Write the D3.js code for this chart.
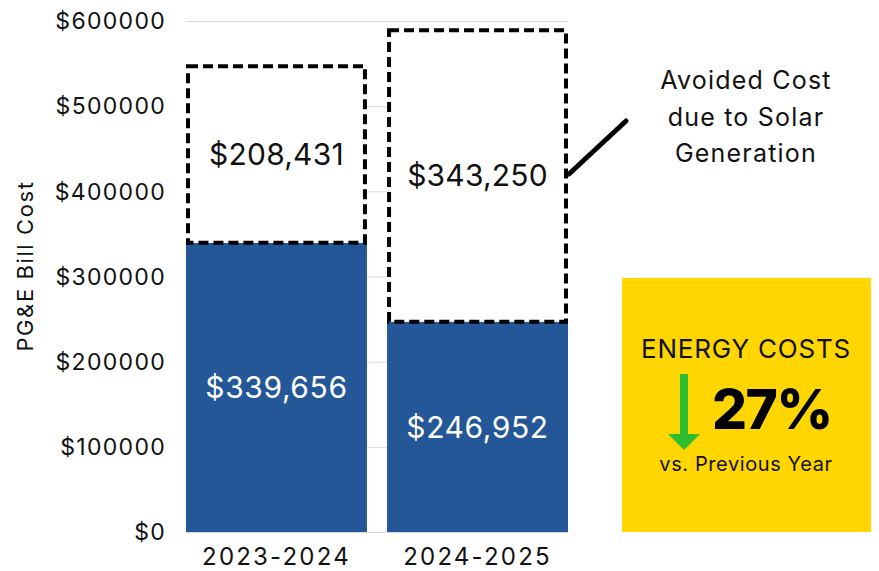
<!DOCTYPE html>
<html>
<head>
<meta charset="UTF-8">
<title>PG&E Bill Cost</title>
<style>
  body { margin: 0; background: #fff; font-family: 'Inter', 'Noto Sans', sans-serif; }
  .grid line { stroke: #d9d9d9; stroke-width: 1; }
  .axis text { font-size: 23px; fill: #111; letter-spacing: 1.3px; }
</style>
</head>
<body>
<script src="https://d3js.org/d3.v7.min.js"></script>
<script>
// data
var years = ["2023-2024", "2024-2025"];
var billCost = [339656, 246952];
var avoidedCost = [208431, 343250];
var yTicks = [0, 100000, 200000, 300000, 400000, 500000, 600000];
var annotation = ["Avoided Cost", "due to Solar", "Generation"];
var changePct = 27;

var width = 879, height = 571;
var svg = d3.select("body").append("svg")
    .attr("width", width).attr("height", height);

var x = d3.scaleBand().domain(years).range([186, 568]).paddingInner(0.1).paddingOuter(0);
var y = d3.scaleLinear().domain([0, 600000]).range([532, 21]);

// gridlines
svg.append("g").attr("class", "grid")
    .selectAll("line").data(yTicks).enter().append("line")
    .attr("x1", 186).attr("x2", 568)
    .attr("y1", function(d) { return y(d) + 0.5; })
    .attr("y2", function(d) { return y(d) + 0.5; });

// y tick labels
svg.append("g").attr("class", "axis")
    .selectAll("text").data(yTicks).enter().append("text")
    .attr("x", 166).attr("y", function(d) { return y(d); })
    .attr("dy", "0.36em").attr("text-anchor", "end")
    .text(function(d) { return "$" + d; });

// category labels
svg.append("g").attr("class", "axis")
    .selectAll("text").data(years).enter().append("text")
    .attr("x", function(d) { return x(d) + x.bandwidth() / 2; })
    .attr("y", 565).attr("text-anchor", "middle")
    .style("font-size", "24px").style("letter-spacing", "2.2px")
    .text(function(d) { return d; });

// y title
svg.append("text")
    .attr("transform", "translate(33,266) rotate(-90)")
    .attr("text-anchor", "middle").attr("font-size", 22).attr("fill", "#111")
    .style("letter-spacing", "1.6px")
    .text("PG&E Bill Cost");

// blue bars
svg.selectAll(".bar").data(years).enter().append("rect")
    .attr("class", "bar")
    .attr("x", function(d) { return x(d); })
    .attr("width", x.bandwidth())
    .attr("y", function(d, i) { return y(billCost[i]); })
    .attr("height", function(d, i) { return y(0) - y(billCost[i]); })
    .attr("fill", "#245797");

// dashed avoided boxes
svg.selectAll(".avoid").data(years).enter().append("rect")
    .attr("class", "avoid")
    .attr("x", function(d) { return x(d) + 2; })
    .attr("width", x.bandwidth() - 4)
    .attr("y", function(d, i) { return y(billCost[i] + avoidedCost[i]) + 1; })
    .attr("height", function(d, i) { return y(billCost[i]) - y(billCost[i] + avoidedCost[i]) - 1; })
    .attr("fill", "#fff").attr("stroke", "#000").attr("stroke-width", 4)
    .attr("stroke-dasharray", "10,5");

var fmt = d3.format(",");

// value labels
svg.selectAll(".lblBill").data(years).enter().append("text")
    .attr("x", function(d) { return x(d) + x.bandwidth() / 2; })
    .attr("y", function(d, i) { return (y(0) + y(billCost[i])) / 2; })
    .attr("dy", "0.36em").attr("text-anchor", "middle")
    .attr("font-size", 30).attr("fill", "#fff").style("letter-spacing", "0.6px")
    .text(function(d, i) { return "$" + fmt(billCost[i]); });

svg.selectAll(".lblAvoid").data(years).enter().append("text")
    .attr("x", function(d) { return x(d) + x.bandwidth() / 2; })
    .attr("y", function(d, i) { return (y(billCost[i]) + y(billCost[i] + avoidedCost[i])) / 2; })
    .attr("dy", "0.36em").attr("text-anchor", "middle")
    .attr("font-size", 30).attr("fill", "#111").style("letter-spacing", "0.2px")
    .text(function(d, i) { return "$" + fmt(avoidedCost[i]); });

// annotation
svg.append("line")
    .attr("x1", 569).attr("y1", 174).attr("x2", 626).attr("y2", 121)
    .attr("stroke", "#000").attr("stroke-width", 5).attr("stroke-linecap", "round");

svg.append("g").selectAll("text").data(annotation).enter().append("text")
    .attr("x", 746).attr("y", function(d, i) { return 89 + i * 36.5; })
    .attr("text-anchor", "middle").attr("font-size", 25).attr("fill", "#111")
    .style("letter-spacing", "1.2px")
    .text(function(d) { return d; });

// callout box
var box = svg.append("g");
box.append("rect").attr("x", 622).attr("y", 278).attr("width", 249).attr("height", 254)
    .attr("fill", "#FFD600");
box.append("text").attr("x", 746).attr("y", 358).attr("text-anchor", "middle")
    .attr("font-size", 26).attr("fill", "#111").style("letter-spacing", "0.8px")
    .text("ENERGY COSTS");
box.append("text").attr("x", 712).attr("y", 429)
    .attr("font-size", 55).attr("font-weight", 800).attr("fill", "#000")
    .style("letter-spacing", "-1.5px").text(changePct + "%");
box.append("rect").attr("x", 680).attr("y", 374).attr("width", 8).attr("height", 62).attr("fill", "#2EBD2E");
box.append("path").attr("d", "M668,434 L700,434 L684,450 Z").attr("fill", "#2EBD2E");
box.append("text").attr("x", 746).attr("y", 471).attr("text-anchor", "middle")
    .attr("font-size", 20).attr("fill", "#111").style("letter-spacing", "0.6px")
    .text("vs. Previous Year");
</script>
</body>
</html>
